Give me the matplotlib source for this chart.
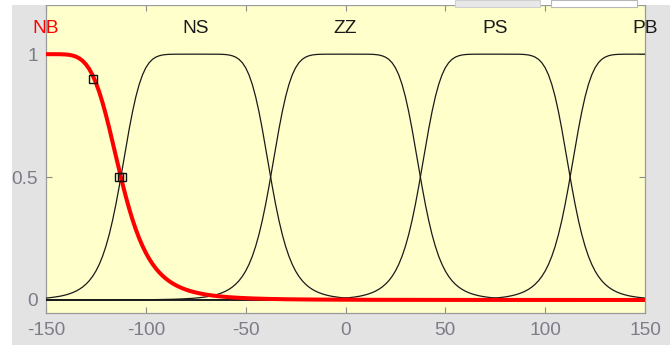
import numpy as np
import matplotlib
matplotlib.use("Agg")
import matplotlib.pyplot as plt
from matplotlib.patches import Rectangle

# ---- data (generalized bell membership functions) ----
mf_names = ["NB", "NS", "ZZ", "PS", "PB"]
mf_centers = [-150, -75, 0, 75, 150]
mf_widths = [37.5, 37.5, 37.5, 37.5, 37.5]
mf_slopes = [2.5, 3.5, 3.5, 3.5, 3.5]
selected = "NB"
handle_x = [-126.5, -113.2, -111.8]
handle_y = [0.9, 0.5, 0.5]
x_ticks = [-150, -100, -50, 0, 50, 100, 150]
y_ticks = [0, 0.5, 1]
y_tick_labels = ["0", "0.5", "1"]

FONT = ["Liberation Sans Narrow", "Liberation Sans", "DejaVu Sans"]
plt.rcParams["font.family"] = FONT

W, H = 670, 345
fig = plt.figure(figsize=(W / 100, H / 100), dpi=100)
fig.patch.set_facecolor("#e3e3e3")

# white strips (screenshot borders)
fig.patches.append(Rectangle((0, 0), 12 / W, 1, transform=fig.transFigure,
                             facecolor="white", edgecolor="none", zorder=0))
fig.patches.append(Rectangle((0, 1 - 5 / H), 1, 5 / H, transform=fig.transFigure,
                             facecolor="white", edgecolor="none", zorder=0))

left, right, bottom, top = 46, 645, 313, 5
ax = fig.add_axes([left / W, 1 - bottom / H, (right - left) / W, (bottom - top) / H])
ax.set_facecolor("#ffffcc")

x = np.linspace(-150, 150, 181)
for name, c, a, b in zip(mf_names, mf_centers, mf_widths, mf_slopes):
    y = 1.0 / (1.0 + np.abs((x - c) / a) ** (2 * b))
    if name == selected:
        ax.plot(x, y, color="#ff0000", lw=2.9, zorder=4, solid_capstyle="butt")
        col = "#ff0000"
    else:
        ax.plot(x, y, color="#1a1a1a", lw=0.9, zorder=3)
        col = "#1a1a1a"
    ax.text(c, 1.105, name, color=col, ha="center", va="center",
            fontsize=13.8, family=FONT, clip_on=False, zorder=6)

ax.axhline(0, color="#1a1a1a", lw=1.1, zorder=3.5)
ax.plot(handle_x, handle_y, ls="none", marker="s", ms=5.8, mfc="none",
        mec="#111111", mew=1.0, zorder=5)

ax.set_xlim(-150, 150)
ax.set_ylim(-0.053, 1.2)
ax.set_xticks(x_ticks)
ax.set_xticklabels([str(t) for t in x_ticks])
ax.set_yticks(y_ticks)
ax.set_yticklabels(y_tick_labels)
ax.tick_params(direction="in", length=4, width=0.8, color="#8a8a8a",
               labelcolor="#7d7d8a", labelsize=13.8, top=True, right=True)
ax.tick_params(axis="x", pad=6.5)
ax.tick_params(axis="y", pad=6)
for s in ax.spines.values():
    s.set_color("#9a9a9a")
    s.set_linewidth(0.9)

# UI widgets peeking in at the top
fig.patches.append(Rectangle((455 / W, 1 - 7 / H), 85 / W, 7 / H, transform=fig.transFigure,
                             facecolor="#e8e8e8", edgecolor="#d0d0d0", lw=0.8, zorder=10))
fig.patches.append(Rectangle((551 / W, 1 - 7 / H), 86 / W, 7 / H, transform=fig.transFigure,
                             facecolor="#ffffff", edgecolor="#b8b8b8", lw=0.8, zorder=10))

fig.savefig("out.png", dpi=100, facecolor=fig.get_facecolor())
